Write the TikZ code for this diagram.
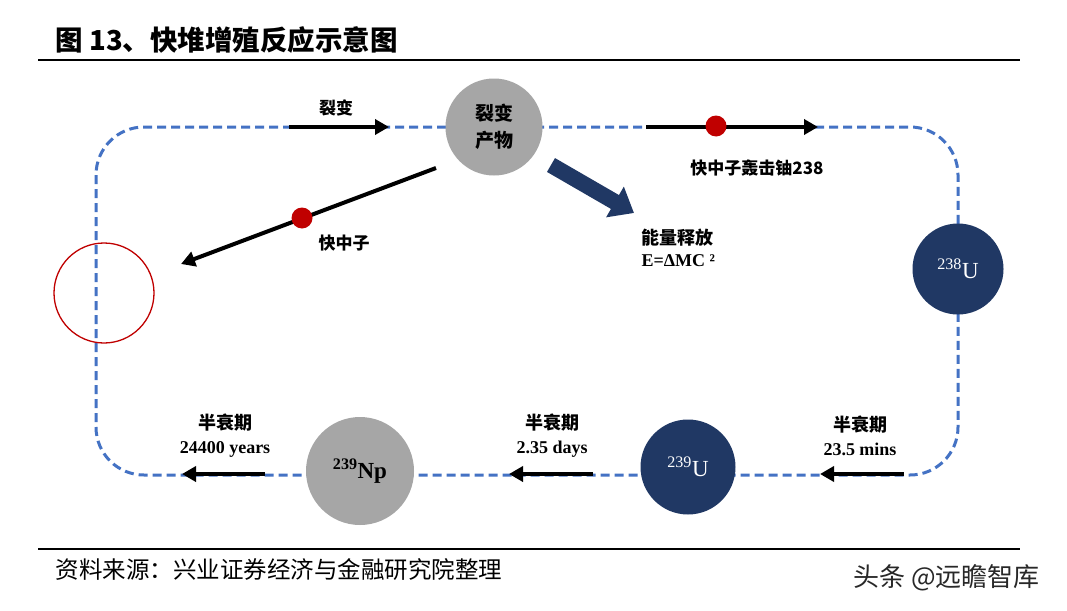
\documentclass[tikz,border=0pt]{standalone}
\usepackage{fontspec}
\setmainfont{Liberation Serif}
\newfontfamily\cjk{Noto Sans CJK SC}
\usetikzlibrary{arrows.meta,calc}
\definecolor{dashblue}{RGB}{68,114,196}
\definecolor{navyc}{RGB}{32,56,100}
\definecolor{grayc}{RGB}{166,166,166}
\definecolor{dotred}{RGB}{192,0,0}
\definecolor{wmgray}{RGB}{40,40,40}
\begin{document}
\begin{tikzpicture}[x=1pt,y=-1pt,
  loopline/.style={dashblue, line width=3pt, dash pattern=on 9pt off 5pt, rounded corners=48pt},
  blkarrow/.style={line width=4pt, -{Triangle[length=14pt,width=15pt]}},
  reddot/.style={circle, fill=dotred, minimum size=21pt, inner sep=0pt},
  cjklbl/.style={font=\cjk\bfseries\fontsize{17}{20}\selectfont},
  hllbl/.style={align=center, font=\bfseries\fontsize{18}{24}\selectfont},
  ball/.style={circle, inner sep=0pt, font=\fontsize{23}{24}\selectfont}
]
\useasboundingbox (0,0) rectangle (1067,610);
\fill[white] (0,0) rectangle (1067,610);

% title and rules
\node[anchor=west, font=\cjk\bfseries\fontsize{27.5}{30}\selectfont] (title) at (52,40) {图 13、快堆增殖反应示意图};
\coordinate (r1a) at (38,60); \coordinate (r1b) at (1020,60);
\draw[line width=2pt] (r1a) -- (r1b);
\coordinate (r2a) at (38,549); \coordinate (r2b) at (1020,549);
\draw[line width=2pt] (r2a) -- (r2b);
\node[anchor=west, font=\cjk\fontsize{23.5}{26}\selectfont] (src) at (52,570) {资料来源：兴业证券经济与金融研究院整理};
\node[anchor=west, text=wmgray, font=\cjk\fontsize{26}{28}\selectfont] (wm) at (850,578) {头条 @远瞻智库};

% loop
\draw[loopline] (96,127) rectangle (958,475);

% nodes on loop
\node[ball, fill=grayc, minimum size=97pt, align=center, font=\cjk\bfseries\fontsize{19}{27}\selectfont] (fp) at (494,127) {裂变\\产物};
\node[ball, fill=navyc, minimum size=91pt, text=white] (u238) at (958,269) {\textsuperscript{238}U};
\node[ball, fill=navyc, minimum size=95pt, text=white] (u239) at (688,467) {\textsuperscript{239}U};
\node[ball, fill=grayc, minimum size=108pt, font=\bfseries\fontsize{23}{24}\selectfont] (np) at (360,471) {\textsuperscript{239}Np};

% red target circle
\node[circle, draw=dotred, line width=1.3pt, minimum size=100pt, inner sep=0pt] (tgt) at (104,293) {};

% top arrows
\coordinate (fa) at (289,127); \coordinate (fb) at (389,127);
\draw[blkarrow] (fa) -- (fb);
\node[cjklbl] (lf) at (336,108) {裂变};

\coordinate (na) at (646,127); \coordinate (nb) at (818,127);
\draw[blkarrow] (na) -- (nb);
\node[reddot] (d1) at (716,126) {};
\node[cjklbl] (ln) at (757,168) {快中子轰击铀238};

% diagonal neutron arrow
\coordinate (da) at (436,168); \coordinate (db) at (181,264);
\draw[blkarrow] (da) -- (db);
\node[reddot] (d2) at (302,218) {};
\node[cjklbl] (ld) at (344,243) {快中子};

% energy arrow
\coordinate (ea) at (551,165); \coordinate (eb) at (634,213);
\draw[navyc, line width=16pt, -{Triangle[length=22pt,width=34pt]}] (ea) -- (eb);
\node[anchor=west, font=\cjk\bfseries\fontsize{18}{20}\selectfont] (le1) at (638,238) {能量释放};
\node[anchor=west, font=\bfseries\fontsize{18}{20}\selectfont] (le2) at (638,261) {E=ΔMC ²};

% bottom arrows
\coordinate (b1a) at (904,474); \coordinate (b1b) at (820,474);
\draw[blkarrow] (b1a) -- (b1b);
\node[hllbl] (lb1) at (860,436) {{\cjk 半衰期}\\23.5 mins};

\coordinate (b2a) at (593,474); \coordinate (b2b) at (509,474);
\draw[blkarrow] (b2a) -- (b2b);
\node[hllbl] (lb2) at (552,436) {{\cjk 半衰期}\\2.35 days};

\coordinate (b3a) at (265,474); \coordinate (b3b) at (182,474);
\draw[blkarrow] (b3a) -- (b3b);
\node[hllbl] (lb3) at (225,436) {{\cjk 半衰期}\\24400 years};
\end{tikzpicture}
\end{document}
